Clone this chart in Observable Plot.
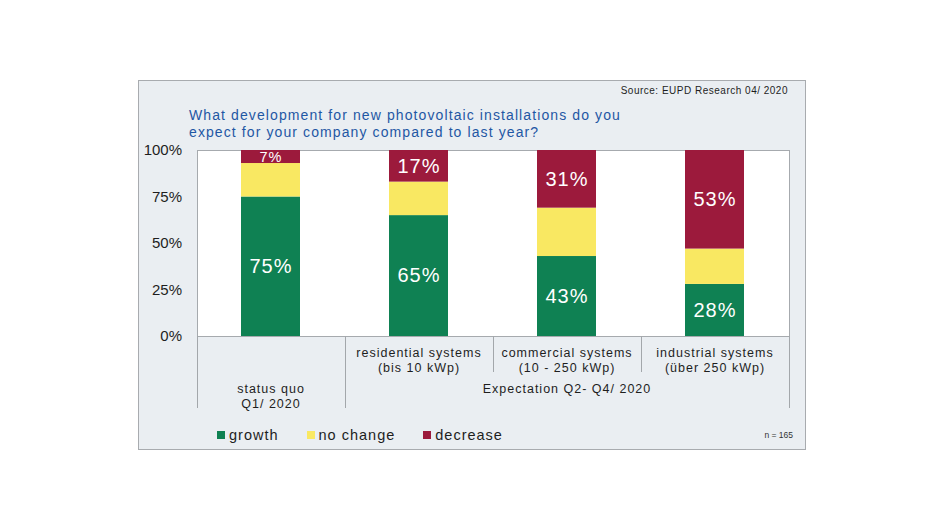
<!DOCTYPE html>
<html>
<head>
<meta charset="utf-8">
<script src="https://cdn.jsdelivr.net/npm/d3@7"></script>
<script src="https://cdn.jsdelivr.net/npm/@observablehq/plot@0.6"></script>
<style>
html, body { margin: 0; padding: 0; background: #ffffff; }
body { width: 944px; height: 531px; position: relative; overflow: hidden; font-family: "Liberation Sans", Arial, sans-serif; }
#box { position: absolute; left: 138px; top: 80px; width: 668px; height: 370px; box-sizing: border-box; border: 1px solid #a8abaf; background: #eaeef2; }
#source { position: absolute; right: 17px; top: 4px; font-size: 10px; line-height: 12px; letter-spacing: 0.5px; color: #1e1e1e; white-space: nowrap; }
#title { position: absolute; left: 50px; top: 26px; font-size: 14px; line-height: 16.5px; letter-spacing: 1.1px; color: #1f57a4; white-space: nowrap; }
#legend { position: absolute; left: 78px; top: 346px; display: flex; align-items: center; font-size: 14.5px; line-height: 16px; letter-spacing: 1px; color: #1e1e1e; white-space: nowrap; }
#legend .item { display: flex; align-items: center; margin-right: 28px; }
#legend .sw { width: 8px; height: 8px; margin-right: 4px; }
#n { position: absolute; right: 12px; top: 349px; font-size: 8.5px; line-height: 10px; color: #333333; white-space: nowrap; }
#chart { position: absolute; left: 138px; top: 140px; }
</style>
</head>
<body>
<div id="box">
  <div id="source"></div>
  <div id="title"></div>
  <div id="legend"></div>
  <div id="n"></div>
</div>
<div id="chart"></div>
<script>
// ---- data ----
const sourceText = "Source: EUPD Research 04/ 2020";
const titleLines = ["What development for new photovoltaic installations do you", "expect for your company compared to last year?"];
const sampleNote = "n = 165";
const categories = ["status quo", "residential systems", "commercial systems", "industrial systems"];
const categoryLabels = ["", "residential systems\n(bis 10 kWp)", "commercial systems\n(10 - 250 kWp)", "industrial systems\n(über 250 kWp)"];
const categoryGroups = ["status quo\nQ1/ 2020", "Expectation Q2- Q4/ 2020", "Expectation Q2- Q4/ 2020", "Expectation Q2- Q4/ 2020"];
const series = ["growth", "no change", "decrease"];
const growth = [75, 65, 43, 28];
const noChange = [18, 18, 26, 19];
const decrease = [7, 17, 31, 53];
const yTicks = [0, 25, 50, 75, 100];
const seriesColors = ["#0f8153", "#f9e862", "#9c1a3c"];

// ---- build table ----
const seriesValues = [growth, noChange, decrease];
const rows = [];
categories.forEach((c, i) => {
  series.forEach((s, j) => rows.push({category: c, series: s, value: seriesValues[j][i]}));
});
const labelRows = categories.map((c, i) => ({category: c, label: categoryLabels[i]}));
const groupRows = [];
{
  let start = 0;
  for (let i = 1; i <= categories.length; i++) {
    if (i === categories.length || categoryGroups[i] !== categoryGroups[start]) {
      groupRows.push({category: categories[Math.floor((start + i - 1) / 2)], label: categoryGroups[start]});
      start = i;
    }
  }
}

// ---- HTML texts ----
document.getElementById("source").textContent = sourceText;
document.getElementById("title").innerHTML = titleLines.map(t => t.replace(/&/g, "&amp;").replace(/</g, "&lt;")).join("<br>");
document.getElementById("n").textContent = sampleNote;
const legend = d3.select("#legend");
series.forEach((s, i) => {
  const item = legend.append("div").attr("class", "item");
  item.append("div").attr("class", "sw").style("background", seriesColors[i]);
  item.append("span").text(s);
});

// ---- dividers under the frame ----
function groupDividers(index, scales, values, dims) {
  const x = scales.x;
  const step = x.step(), bw = x.bandwidth();
  const y0 = dims.height - dims.marginBottom;
  const g = d3.create("svg:g").attr("aria-label", "category dividers").attr("stroke", "#a3a7ab").attr("stroke-width", 1);
  const n = categories.length;
  for (let i = 0; i <= n; i++) {
    const edge = i < n ? x(categories[i]) - (step - bw) / 2 : x(categories[n - 1]) + bw + (step - bw) / 2;
    const isGroupEdge = i === 0 || i === n || categoryGroups[i] !== categoryGroups[i - 1];
    const len = isGroupEdge ? 72 : 36;
    const px = Math.round(edge) + 0.5;
    g.append("line").attr("x1", px).attr("x2", px).attr("y1", y0).attr("y2", y0 + len);
  }
  return g.node();
}

const chart = Plot.plot({
  width: 668,
  height: 280,
  marginLeft: 59,
  marginRight: 17,
  marginTop: 10,
  marginBottom: 84,
  style: {background: "transparent", fontFamily: "'Liberation Sans', Arial, sans-serif", color: "#1e1e1e", overflow: "visible"},
  x: {domain: categories, paddingInner: 0.6, paddingOuter: 0.3, axis: null},
  y: {domain: [0, 100]},
  color: {domain: series, range: seriesColors},
  marks: [
    Plot.frame({fill: "white", stroke: "#a6aaae"}),
    Plot.barY(rows, {x: "category", y: "value", fill: "series"}),
    Plot.text(rows, Plot.stackY({
      x: "category", y: "value", z: "series",
      text: d => d.series === "no change" ? null : d.value + "%",
      fill: "white",
      fontSize: d => d.value < 10 ? 14.5 : 20
    })),
    Plot.axisY(yTicks, {tickSize: 0, tickPadding: 15.5, tickFormat: d => d + "%", label: null, fontSize: 15, fill: "#1e1e1e"}),
    groupDividers,
    Plot.text(labelRows, {x: "category", text: "label", frameAnchor: "bottom", lineAnchor: "top", dy: 10.5, lineHeight: 1.18, fontSize: 12.5, fill: "#1e1e1e"}),
    Plot.text(groupRows, {x: "category", text: "label", frameAnchor: "bottom", lineAnchor: "top", dy: 46.7, lineHeight: 1.16, fontSize: 12.5, fill: "#1e1e1e"})
  ]
});

const sel = d3.select(chart);
const textGroups = sel.selectAll('g[aria-label="text"]').nodes();
// order of text marks: bar labels, category labels, group labels
if (textGroups[0]) d3.select(textGroups[0]).style("letter-spacing", "1px");
if (textGroups[1]) d3.select(textGroups[1]).style("letter-spacing", "1px");
if (textGroups[2]) d3.select(textGroups[2]).style("letter-spacing", "1px");
document.getElementById("chart").appendChild(chart);
</script>
</body>
</html>
